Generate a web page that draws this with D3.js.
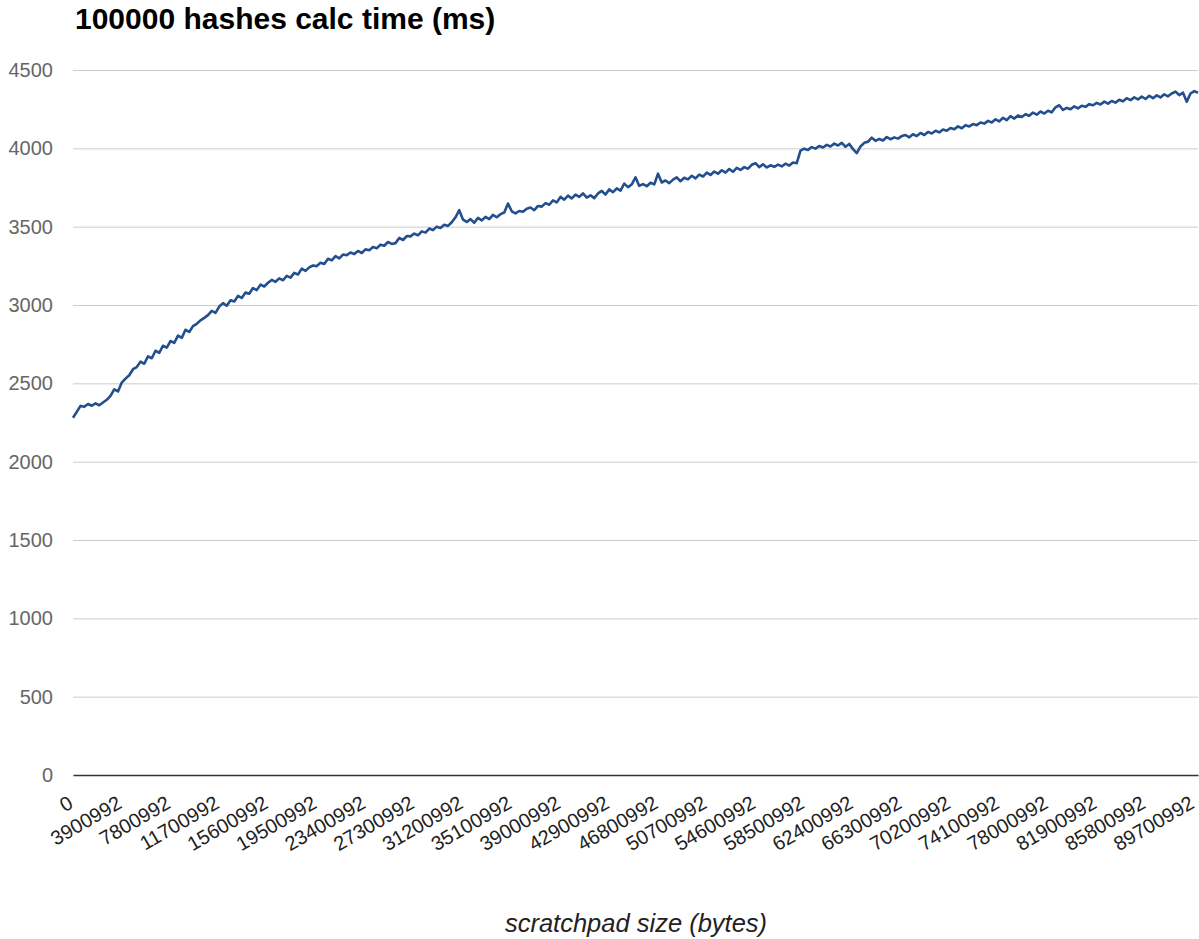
<!DOCTYPE html>
<html>
<head>
<meta charset="utf-8">
<script src="https://cdn.jsdelivr.net/npm/d3@7"></script>
<style>
    body { margin: 0; background: #fff; }
    text { font-family: "Liberation Sans", Arial, sans-serif; }
</style>
</head>
<body>
<div class="chart"></div>
<script>
// chart title and axis title
var title = "100000 hashes calc time (ms)";
var xTitle = "scratchpad size (bytes)";

// x tick labels (every 13th sample, one sample per 300000 bytes)
var xLabels = ["0", "3900992", "7800992", "11700992", "15600992", "19500992", "23400992",
    "27300992", "31200992", "35100992", "39000992", "42900992", "46800992", "50700992",
    "54600992", "58500992", "62400992", "66300992", "70200992", "74100992", "78000992",
    "81900992", "85800992", "89700992"];
var labelStep = 13;

// y ticks
var yTicks = [0, 500, 1000, 1500, 2000, 2500, 3000, 3500, 4000, 4500];

// calc time in ms
var times = [
    2280, 2318, 2356, 2350, 2368, 2357, 2372, 2360, 2378, 2395,
    2420, 2462, 2448, 2505, 2530, 2552, 2590, 2604, 2638, 2625,
    2672, 2660, 2708, 2695, 2740, 2728, 2770, 2758, 2805, 2790,
    2842, 2828, 2865, 2880, 2902, 2918, 2935, 2962, 2950, 2990,
    3012, 2995, 3030, 3022, 3058, 3045, 3080, 3072, 3108, 3095,
    3130, 3118, 3142, 3160, 3148, 3170, 3158, 3186, 3175, 3205,
    3195, 3232, 3218, 3240, 3252, 3248, 3270, 3262, 3295, 3285,
    3312, 3298, 3322, 3318, 3335, 3325, 3345, 3332, 3355, 3350,
    3370, 3362, 3385, 3378, 3402, 3390, 3395, 3428, 3415, 3440,
    3438, 3456, 3445, 3470, 3462, 3488, 3478, 3500, 3492, 3512,
    3505, 3528, 3560, 3605, 3545, 3530, 3548, 3525, 3556, 3540,
    3562, 3548, 3575, 3560, 3580, 3590, 3648, 3598, 3585, 3600,
    3595, 3615, 3622, 3605, 3632, 3628, 3650, 3640, 3668, 3655,
    3690, 3672, 3698, 3680, 3705, 3690, 3712, 3686, 3700, 3682,
    3712, 3728, 3705, 3738, 3720, 3745, 3730, 3775, 3752, 3770,
    3815, 3760, 3772, 3758, 3780, 3770, 3838, 3782, 3795, 3778,
    3800, 3815, 3790, 3812, 3802, 3825, 3808, 3832, 3820, 3845,
    3830, 3852, 3838, 3860, 3845, 3868, 3850, 3875, 3862, 3880,
    3870, 3895, 3905, 3880, 3898, 3878, 3892, 3882, 3896, 3885,
    3902, 3890, 3910, 3905, 3985, 3998, 3990, 4008, 3998, 4015,
    4005, 4022, 4012, 4030, 4018, 4035, 4010, 4028, 3995, 3970,
    4012, 4035, 4042, 4068, 4048, 4060, 4050, 4072, 4058, 4070,
    4062, 4078, 4085, 4070, 4090, 4078, 4098, 4085, 4105, 4095,
    4112, 4102, 4120, 4112, 4130, 4122, 4140, 4128, 4148, 4140,
    4155, 4148, 4165, 4158, 4175, 4165, 4185, 4172, 4195, 4180,
    4205, 4190, 4210, 4200, 4218, 4208, 4228, 4215, 4235, 4222,
    4240, 4230, 4262, 4275, 4245, 4258, 4250, 4268, 4255, 4272,
    4265, 4282, 4275, 4290, 4280, 4298, 4285, 4302, 4292, 4310,
    4300, 4320, 4308, 4325, 4312, 4330, 4315, 4335, 4320, 4338,
    4325, 4345, 4332, 4350, 4362, 4340, 4355, 4298, 4350, 4365, 4355
];

var width = 1199, height = 939;
var plotLeft = 73, plotRight = 1198, plotTop = 70, plotBottom = 775;

var svg = d3.select(".chart").append("svg")
    .attr("width", width)
    .attr("height", height);

var x = d3.scaleLinear()
    .domain([0, times.length - 1])
    .range([plotLeft, plotRight]);

var y = d3.scaleLinear()
    .domain([0, 4500])
    .range([plotBottom, plotTop]);

//gridlines + y labels
var yAxis = d3.axisLeft(y)
    .tickValues(yTicks)
    .tickSize(-(plotRight - plotLeft))
    .tickPadding(20)
    .tickFormat(d3.format("d"));

var gy = svg.append("g")
    .attr("transform", "translate(" + plotLeft + ",0)")
    .call(yAxis);
gy.select(".domain").remove();
gy.selectAll(".tick line")
    .attr("stroke", "#cccccc")
    .attr("stroke-width", 1);
gy.selectAll(".tick text")
    .attr("fill", "#666666")
    .attr("font-size", 20)
    .attr("font-family", "Liberation Sans, Arial, sans-serif");
gy.selectAll(".tick").filter(function (d) { return d === 0; }).select("line").remove();

//x axis baseline
var xAxis = d3.axisBottom(x)
    .tickValues(xLabels.map(function (d, i) { return i * labelStep; }))
    .tickSize(0)
    .tickFormat(function (d, i) { return xLabels[i]; });

var gx = svg.append("g")
    .attr("transform", "translate(0," + plotBottom + ")")
    .call(xAxis);
gx.select(".domain")
    .attr("stroke", "#333333")
    .attr("stroke-width", 1.3);
gx.selectAll(".tick text")
    .attr("fill", "#222222")
    .attr("font-size", 20)
    .attr("font-family", "Liberation Sans, Arial, sans-serif")
    .attr("text-anchor", "end")
    .attr("dy", null)
    .attr("y", 0)
    .attr("transform", "translate(1,32) rotate(-30)");

//the line
var line = d3.line()
    .x(function (d, i) { return x(i); })
    .y(function (d) { return y(d); });

svg.append("path")
    .datum(times)
    .attr("fill", "none")
    .attr("stroke", "#234f8e")
    .attr("stroke-width", 2.6)
    .attr("stroke-linejoin", "round")
    .attr("d", line);

//titles
svg.append("text")
    .attr("x", 75)
    .attr("y", 29)
    .attr("font-size", 30)
    .attr("font-weight", "bold")
    .attr("fill", "#000")
    .text(title);

svg.append("text")
    .attr("x", 636)
    .attr("y", 932)
    .attr("text-anchor", "middle")
    .attr("font-size", 25.5)
    .attr("font-style", "italic")
    .attr("fill", "#222")
    .text(xTitle);
</script>
</body>
</html>
